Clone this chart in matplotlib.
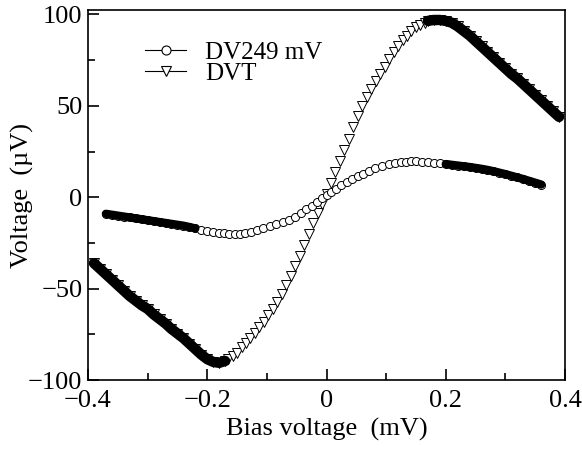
import numpy as np
import matplotlib
matplotlib.use("Agg")
import matplotlib.pyplot as plt
from matplotlib.lines import Line2D
from matplotlib.ticker import MultipleLocator

plt.rcParams['font.family'] = ['Liberation Serif', 'DejaVu Serif']

# DVT (triangles): bias voltage (mV) and signal (uV)
dvt_x = [-0.39, -0.38, -0.37, -0.36, -0.35, -0.34, -0.33, -0.32, -0.31, -0.30,
         -0.29, -0.28, -0.27, -0.26, -0.25, -0.24, -0.23, -0.22, -0.21, -0.20,
         -0.19, -0.18, -0.17,
         -0.165, -0.1575, -0.150, -0.1425, -0.135, -0.1275, -0.120, -0.1125,
         -0.105, -0.0975, -0.090, -0.0825, -0.075, -0.0675, -0.060, -0.0525,
         -0.045, -0.0375, -0.030, -0.0225, -0.015, -0.0075, 0.0, 0.0075,
         0.015, 0.0225, 0.030, 0.0375, 0.045, 0.0525, 0.060, 0.0675, 0.075,
         0.0825, 0.090, 0.0975, 0.105, 0.1125, 0.120, 0.1275, 0.135, 0.1425,
         0.150, 0.1575, 0.165,
         0.17, 0.18, 0.19, 0.20, 0.21, 0.22, 0.23, 0.24, 0.25, 0.26, 0.27,
         0.28, 0.29, 0.30, 0.31, 0.32, 0.33, 0.34, 0.35, 0.36, 0.37, 0.38, 0.39]
dvt_y = [-36, -39, -42, -45, -48, -51, -54, -56.5, -59, -61,
         -64, -66.5, -69, -72, -74.5, -77, -80, -83, -86, -88.5,
         -90, -90.5, -89.5,
         -88.5, -87, -85, -82, -79.5, -77, -74, -71,
         -68, -64.5, -61, -57.5, -53, -48.2, -43, -37.6,
         -32, -26.2, -20.3, -14.3, -8.5, -3.5, 2, 8,
         14, 20, 26, 32, 38.5, 44.5, 50, 55, 59.5,
         63.5, 67.5, 71.5, 75.5, 79.5, 83, 86, 88.5, 91,
         93, 94.5, 95.5,
         96.5, 97, 97, 96.5, 95.5, 93.5, 91, 88.5, 85.5, 82.5, 79.5,
         76.5, 73.5, 70.5, 67.5, 65, 62, 59, 56, 53, 50, 47, 44]

# DV249 mV (circles)
dv_x = [-0.37, -0.36, -0.35, -0.34, -0.33, -0.32, -0.31, -0.30, -0.29, -0.28,
        -0.27, -0.26, -0.25, -0.24, -0.23, -0.22, -0.21, -0.20,
        -0.190, -0.181, -0.172, -0.163, -0.154, -0.145, -0.136, -0.127,
        -0.117, -0.106, -0.095, -0.084, -0.073, -0.063, -0.053, -0.043,
        -0.034, -0.025, -0.016, -0.008, 0.000, 0.008, 0.016, 0.025, 0.034,
        0.043, 0.052, 0.061, 0.071, 0.082, 0.093, 0.104, 0.115, 0.125,
        0.134, 0.142, 0.150,
        0.16, 0.17, 0.18, 0.19, 0.20, 0.21, 0.22, 0.23, 0.24, 0.25, 0.26,
        0.27, 0.28, 0.29, 0.30, 0.31, 0.32, 0.33, 0.34, 0.35, 0.36]
dv_y = [-9, -9.5, -10, -10.5, -11, -11.5, -12, -12.5, -13, -13.5,
        -14, -14.5, -15, -15.5, -16.2, -17, -17.7, -18.3,
        -18.8, -19.3, -19.7, -20.0, -20.1, -20.0, -19.6, -18.9,
        -18.0, -16.9, -15.8, -14.8, -13.6, -12.2, -10.5, -8.6,
        -6.6, -4.6, -2.4, -0.6, 1.1, 3.0, 4.8, 6.6, 8.3,
        10.0, 11.6, 13.0, 14.4, 15.8, 17.0, 18.0, 18.8, 19.3,
        19.6, 19.8, 19.8,
        19.6, 19.3, 19.0, 18.6, 18.2, 17.8, 17.4, 17.0, 16.6, 16.1, 15.6,
        15.0, 14.3, 13.5, 12.7, 11.8, 10.9, 10.0, 9.0, 8.0, 7.0]

dvt_x = np.array(dvt_x)
dvt_y = np.array(dvt_y)
dv_x = np.array(dv_x)
dv_y = np.array(dv_y)

fig = plt.figure(figsize=(5.82, 4.51), dpi=100)
ax = fig.add_axes([0.1512, 0.157, 0.8196, 0.821])

# open markers first, then the dense ends drawn over them as a black band
ax.plot(dvt_x, dvt_y, linestyle='none', marker='v', ms=6.5, mfc='white',
        mec='black', mew=0.7, zorder=2)
for m in (dvt_x <= -0.17, dvt_x >= 0.17):
    ax.plot(dvt_x[m], dvt_y[m], color='black', lw=7.5, solid_capstyle='round',
            zorder=3)

ax.plot(dv_x, dv_y, linestyle='none', marker='o', ms=5.8, mfc='white',
        mec='black', mew=0.7, zorder=4)
for m in (dv_x <= -0.22, dv_x >= 0.2):
    ax.plot(dv_x[m], dv_y[m], color='black', lw=6, solid_capstyle='round',
            zorder=5)

ax.set_xlim(-0.4, 0.4)
ax.set_ylim(-100, 102.5)
ax.xaxis.set_minor_locator(MultipleLocator(0.1))
ax.yaxis.set_minor_locator(MultipleLocator(25))
ax.set_xticks([-0.4, -0.2, 0, 0.2, 0.4])
ax.set_xticklabels(['\u22120.4', '\u22120.2', '0', '0.2', '0.4'])
ax.set_yticks([-100, -50, 0, 50, 100])
ax.set_yticklabels(['\u2212100', '\u221250', '0', '50', '100'])
ax.tick_params(which='both', direction='in', top=False, right=False,
               width=1.2, labelsize=19)
ax.tick_params(axis='x', which='major', length=8, pad=7)
ax.tick_params(axis='y', which='major', length=8, pad=4)
ax.tick_params(which='minor', length=5)
for s in ax.spines.values():
    s.set_linewidth(1.2)

ax.set_xlabel('Bias voltage  (mV)', fontsize=19, labelpad=4)
ax.set_ylabel('Voltage  (\u00b5V)', fontsize=19, labelpad=-4)

handles = [Line2D([], [], color='black', lw=0.8, marker='o', ms=6.5,
                  mfc='white', mec='black', mew=0.8),
           Line2D([], [], color='black', lw=0.8, marker='v', ms=7.5,
                  mfc='white', mec='black', mew=0.8)]
ax.legend(handles, ['DV249 mV', 'DVT'], loc='upper left',
          bbox_to_anchor=(0.12, 0.915), frameon=False, fontsize=18,
          handlelength=1.65, handletextpad=0.75, labelspacing=-0.05,
          borderpad=0, borderaxespad=0)

fig.savefig('out.png', dpi=100)
